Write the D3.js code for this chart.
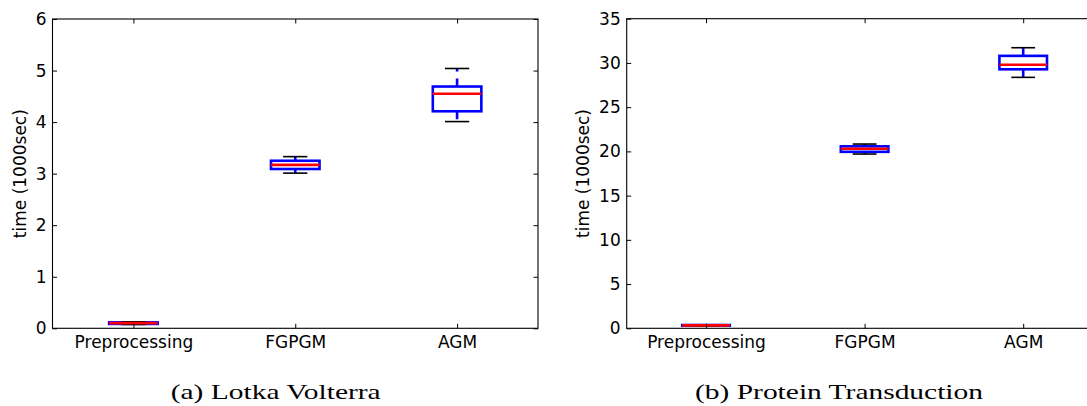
<!DOCTYPE html>
<html>
<head>
<meta charset="utf-8">
<script src="https://cdn.jsdelivr.net/npm/d3@7"></script>
<style>
  html, body { margin: 0; padding: 0; background: #fff; }
  svg { display: block; }
</style>
</head>
<body>
<svg id="chart" width="1087" height="406"></svg>
<script>
// ---- data ----
const categories = ["Preprocessing", "FGPGM", "AGM"];

// (a) Lotka Volterra, time in 1000 sec
const lvWhiskerLow  = [0.075, 3.01, 4.01];
const lvQ1          = [0.085, 3.09, 4.21];
const lvMedian      = [0.100, 3.17, 4.55];
const lvQ3          = [0.115, 3.25, 4.69];
const lvWhiskerHigh = [0.125, 3.33, 5.04];
const lvTicks = [0, 1, 2, 3, 4, 5, 6];

// (b) Protein Transduction, time in 1000 sec
const ptWhiskerLow  = [0.28, 19.70, 28.37];
const ptQ1          = [0.30, 19.95, 29.28];
const ptMedian      = [0.33, 20.30, 29.80];
const ptQ3          = [0.37, 20.57, 30.80];
const ptWhiskerHigh = [0.40, 20.83, 31.72];
const ptTicks = [0, 5, 10, 15, 20, 25, 30, 35];

const yLabel = "time (1000sec)";
const captions = ["(a) Lotka Volterra", "(b) Protein Transduction"];

// ---- drawing ----
const svg = d3.select("#chart");
const FONT = "'DejaVu Sans', sans-serif";

function panel(cfg) {
  const {x0, x1, y0, y1, yMax, ticks, lo, q1, med, q3, hi, labelX} = cfg;
  const x = d3.scaleLinear().domain([0.5, 3.5]).range([x0, x1]);
  const y = d3.scaleLinear().domain([0, yMax]).range([y1, y0]);
  const g = svg.append("g");
  const boxW = 0.3;

  const data = categories.map((c, i) => ({c, i, pos: i + 1, lo: lo[i], q1: q1[i], med: med[i], q3: q3[i], hi: hi[i]}));

  // boxes
  g.selectAll("rect.box").data(data).join("rect")
    .attr("class", "box")
    .attr("x", d => x(d.pos - boxW / 2))
    .attr("width", d => x(d.pos + boxW / 2) - x(d.pos - boxW / 2))
    .attr("y", d => y(d.q3))
    .attr("height", d => Math.max(0.01, y(d.q1) - y(d.q3)))
    .attr("fill", "none")
    .attr("stroke", "#0000ff")
    .attr("stroke-width", 2.6);

  // whiskers (dashed, starting at the box)
  const whiskers = [];
  data.forEach(d => {
    whiskers.push({pos: d.pos, from: d.q3, to: d.hi});
    whiskers.push({pos: d.pos, from: d.q1, to: d.lo});
  });
  g.selectAll("line.wh").data(whiskers).join("line")
    .attr("class", "wh")
    .attr("x1", d => x(d.pos)).attr("x2", d => x(d.pos))
    .attr("y1", d => y(d.from)).attr("y2", d => y(d.to))
    .attr("stroke", "#0000ff")
    .attr("stroke-width", 2.6)
    .attr("stroke-dasharray", "8,7");

  // caps
  const caps = [];
  data.forEach(d => { caps.push({pos: d.pos, v: d.hi}); caps.push({pos: d.pos, v: d.lo}); });
  g.selectAll("line.cap").data(caps).join("line")
    .attr("class", "cap")
    .attr("x1", d => x(d.pos - boxW / 4)).attr("x2", d => x(d.pos + boxW / 4))
    .attr("y1", d => y(d.v)).attr("y2", d => y(d.v))
    .attr("stroke", "#000")
    .attr("stroke-width", 1.6);

  // medians
  g.selectAll("line.med").data(data).join("line")
    .attr("class", "med")
    .attr("x1", d => x(d.pos - boxW / 2)).attr("x2", d => x(d.pos + boxW / 2))
    .attr("y1", d => y(d.med)).attr("y2", d => y(d.med))
    .attr("stroke", "#ff0000")
    .attr("stroke-width", 2.6);

  // axes (classic inward ticks on all four sides)
  const xTickVals = [1, 2, 3];
  const fmtCat = v => categories[v - 1];
  const ax = (gen, tx, ty, labels) => {
    const a = g.append("g").attr("transform", `translate(${tx},${ty})`).call(gen);
    a.select(".domain").remove();
    a.selectAll(".tick line").attr("stroke", "#000").attr("stroke-width", 1);
    a.selectAll(".tick text").attr("fill", "#000")
      .style("font-family", FONT).style("font-size", "17px");
    if (!labels) a.selectAll(".tick text").remove();
    return a;
  };
  ax(d3.axisBottom(x).tickValues(xTickVals).tickFormat(fmtCat).tickSizeInner(-4.5).tickSizeOuter(0).tickPadding(7.2), 0, y1, true);
  ax(d3.axisTop(x).tickValues(xTickVals).tickFormat(fmtCat).tickSizeInner(-4.5).tickSizeOuter(0), 0, y0, false);
  ax(d3.axisLeft(y).tickValues(ticks).tickFormat(d3.format("d")).tickSizeInner(-4.5).tickSizeOuter(0).tickPadding(6), x0, 0, true);
  ax(d3.axisRight(y).tickValues(ticks).tickSizeInner(-4.5).tickSizeOuter(0), x1, 0, false);

  // frame
  g.append("rect")
    .attr("x", x0).attr("y", y0)
    .attr("width", x1 - x0).attr("height", y1 - y0)
    .attr("fill", "none").attr("stroke", "#000").attr("stroke-width", 1.1);

  // y label
  g.append("text")
    .attr("transform", `translate(${labelX},${(y0 + y1) / 2}) rotate(-90)`)
    .attr("text-anchor", "middle")
    .style("font-family", FONT).style("font-size", "17px")
    .attr("fill", "#000")
    .text(yLabel);
}

panel({x0: 52.5, x1: 538, y0: 19, y1: 328.3, yMax: 6, ticks: lvTicks,
       lo: lvWhiskerLow, q1: lvQ1, med: lvMedian, q3: lvQ3, hi: lvWhiskerHigh, labelX: 26});
panel({x0: 626.7, x1: 1102.5, y0: 18.7, y1: 328.3, yMax: 35, ticks: ptTicks,
       lo: ptWhiskerLow, q1: ptQ1, med: ptMedian, q3: ptQ3, hi: ptWhiskerHigh, labelX: 589});

// captions
const capPos = [{cx: 275.7, w: 210}, {cx: 839, w: 288}];
captions.forEach((t, i) => {
  svg.append("text")
    .attr("x", capPos[i].cx).attr("y", 399)
    .attr("text-anchor", "middle")
    .attr("textLength", capPos[i].w)
    .attr("lengthAdjust", "spacingAndGlyphs")
    .style("font-family", "'Liberation Serif', 'DejaVu Serif', serif")
    .style("font-size", "22px")
    .attr("fill", "#000")
    .text(t);
});
</script>
</body>
</html>
